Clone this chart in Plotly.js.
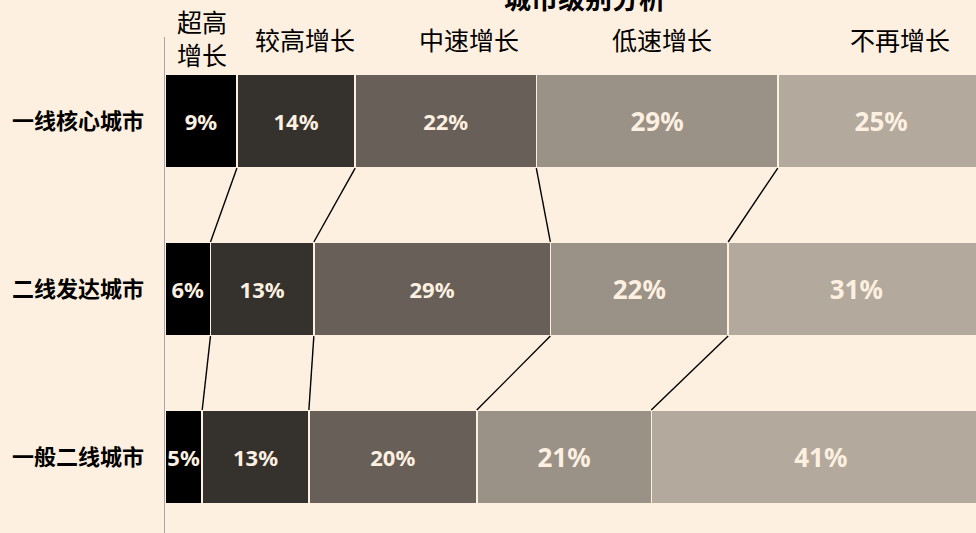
<!DOCTYPE html>
<html>
<head>
<meta charset="utf-8">
<script src="https://cdn.plot.ly/plotly-3.0.1.min.js"></script>
<style>html,body{margin:0;padding:0;background:#fdf0e0;}#chart{width:976px;height:533px;}</style>
</head>
<body>
<div id="chart"></div>
<script>
// Data
const cities = ['一线核心城市', '二线发达城市', '一般二线城市'];
const growthTypes = ['超高增长', '较高增长', '中速增长', '低速增长', '不再增长'];
// share (%) of each growth type per city tier
const tier1 = [8.7, 14.3, 21.9, 29.2, 25];
const tier2 = [5.5, 12.5, 28.6, 21.5, 31];
const tier3 = [4.5, 12.9, 20.3, 21.1, 41];
// printed labels
const tier1Labels = ['9%', '14%', '22%', '29%', '25%'];
const tier2Labels = ['6%', '13%', '29%', '22%', '31%'];
const tier3Labels = ['5%', '13%', '20%', '21%', '41%'];
const chartTitle = '城市级别分析';

const rows = [tier1, tier2, tier3];
const rowLabels = [tier1Labels, tier2Labels, tier3Labels];
const colors = ['#000000', '#35312c', '#675f58', '#9a9187', '#b3a99c'];
const cream = '#fdf0e0';
const barWidth = 0.56;
const yPos = cities.map((c, i) => i);

const traces = [];
growthTypes.forEach((g, k) => {
  traces.push({
    type: 'bar',
    orientation: 'h',
    name: g,
    y: yPos,
    x: rows.map(r => r[k]),
    text: rowLabels.map(r => r[k]),
    textposition: 'inside',
    insidetextanchor: 'middle',
    textangle: 0,
    constraintext: 'none',
    textfont: {family: '"Noto Sans", "Open Sans", sans-serif', size: k < 3 ? 22 : 26, color: cream, weight: 'bold'},
    width: barWidth,
    marker: {color: colors[k], line: {color: cream, width: 1.5}},
    hoverinfo: 'skip',
    showlegend: false
  });
});

// connector lines between consecutive rows at segment boundaries
function cum(arr) { const out = []; let s = 0; arr.forEach(v => { s += v; out.push(s); }); return out; }
for (let r = 0; r < rows.length - 1; r++) {
  const a = cum(rows[r]), b = cum(rows[r + 1]);
  for (let k = 0; k < 4; k++) {
    traces.push({
      type: 'scatter', mode: 'lines',
      x: [a[k], b[k]],
      y: [yPos[r] + barWidth / 2, yPos[r + 1] - barWidth / 2],
      line: {color: '#000000', width: 1.4},
      hoverinfo: 'skip', showlegend: false, cliponaxis: false
    });
  }
}

const hdrFont = {family: '"Noto Sans CJK SC", sans-serif', size: 25, color: '#000000'};
// headers placed above the plot area (paper y = 1 is the plot top, pixel 37)
const annotations = [
  {text: '超高<br>增长', x: 4.5, yshift: 0, font: hdrFont},
  {text: growthTypes[1], x: 16.9, yshift: -2, font: hdrFont},
  {text: growthTypes[2], x: 36.8, yshift: -2, font: hdrFont},
  {text: growthTypes[3], x: 60.1, yshift: -2, font: hdrFont},
  {text: growthTypes[4], x: 88.9, yshift: -2, font: hdrFont}
].map(a => Object.assign({xref: 'x', yref: 'paper', y: 1, showarrow: false, xanchor: 'center', yanchor: 'middle'}, a));

const layout = {
  width: 976, height: 533,
  paper_bgcolor: cream, plot_bgcolor: cream,
  margin: {l: 165, r: 0, t: 37, b: 0, pad: 0},
  barmode: 'stack',
  title: {
    text: chartTitle,
    font: {family: '"Noto Sans CJK SC", sans-serif', size: 27, color: '#000000', weight: 'bold'},
    x: 585 / 976, xanchor: 'center', xref: 'container',
    y: 1.0, yanchor: 'middle', yref: 'container'
  },
  xaxis: {range: [0, 98.07], showgrid: false, zeroline: false, showticklabels: false, showline: false, fixedrange: true},
  yaxis: {
    range: [2.452, -0.5], tickmode: 'array', tickvals: yPos, ticktext: cities,
    showgrid: false, zeroline: false, showline: true, linecolor: '#a6a6a6', linewidth: 1.5,
    ticks: '', ticklabelstandoff: 15,
    tickfont: {family: '"Noto Sans CJK SC", sans-serif', size: 22, color: '#000000', weight: 'bold'}
  },
  annotations: annotations
};

Plotly.newPlot('chart', traces, layout, {displayModeBar: false, staticPlot: true});
</script>
</body>
</html>
